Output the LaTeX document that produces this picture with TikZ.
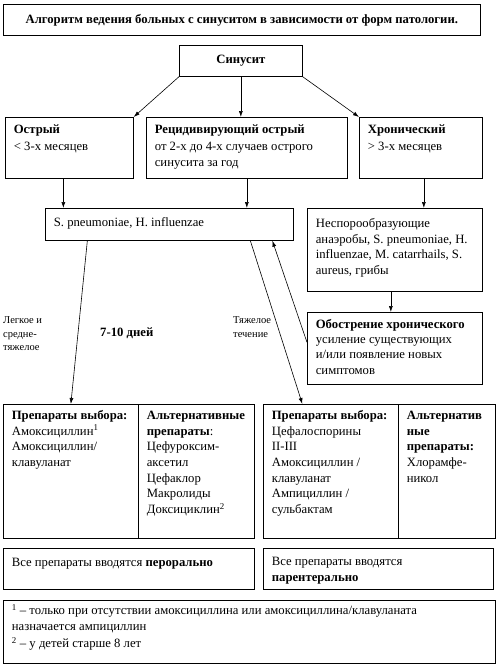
\documentclass[tikz,border=0pt]{standalone}
\usepackage{fontspec}
\setmainfont{Liberation Serif}
\usetikzlibrary{arrows.meta,positioning}

% text of a box: width, height, first baseline, lines
\newcommand{\cell}[5][15.7]{%
  \begin{minipage}[c][#3pt][t]{#2pt}%
    \fontsize{12.7}{#1}\selectfont
    \leftskip=8.5pt\rightskip=0pt plus 1fil
    \rule{0pt}{#4pt}#5%
  \end{minipage}}

\tikzset{
  box/.style={draw, line width=0.7pt, anchor=north west, inner sep=0pt},
  conn/.style={-{Latex[length=6pt,width=4pt]}, line width=0.6pt},
  note/.style={font=\fontsize{10.5}{13.5}\selectfont, align=left,
    anchor=north west, inner sep=0pt}
}

\begin{document}
\begin{tikzpicture}[x=1pt,y=-1pt]
  \useasboundingbox (0,0) rectangle (500,665);

  % header
  \node[box, minimum width=477pt, minimum height=31pt,
    font=\fontsize{12.7}{15}\selectfont\bfseries] (title) at (3,4)
    {Алгоритм ведения больных с синуситом в зависимости от форм патологии.};
  \node[box, minimum width=123pt, minimum height=31pt,
    font=\fontsize{12.7}{15}\selectfont\bfseries] (sinus) at (179,45) {Синусит};

  % forms
  \node[box] (acute) at (5,117) {\cell[16.7]{128}{61}{16}{\textbf{Острый}\\
    < 3-х месяцев}};
  \node[box] (recur) at (146,117) {\cell[16.7]{201}{61}{16}{\textbf{Рецидивирующий острый}\\
    от 2-х до 4-х случаев острого\\ синусита за год}};
  \node[box] (chron) at (359,117) {\cell[16.7]{123}{61}{16}{\textbf{Хронический}\\
    > 3-х месяцев}};

  % agents
  \node[box] (agents) at (45,208) {\cell{248}{32}{18}{S. pneumoniae, H. influenzae}};
  \node[box] (anaer) at (307,208) {\cell{175}{83}{19}{Неспорообразующие\\
    анаэробы, S. pneumoniae, H.\\ influenzae, M. catarrhails, S.\\ aureus, грибы}};
  \node[box] (exacer) at (307,312) {\cell[15.3]{175}{72}{16}{\textbf{Обострение хронического}\\
    усиление существующих\\ и/или появление новых\\ симптомов}};

  % drugs
  \node[box] (oralA) at (3,404) {\cell{135}{134}{15}{\textbf{Препараты выбора:}\\
    Амоксициллин\textsuperscript{1}\\ Амоксициллин/\\ клавуланат}};
  \node[box] (oralB) at (138,404) {\cell{116}{134}{15}{\textbf{Альтернативные\\
    препараты}:\\ Цефуроксим-\\ аксетил\\ Цефаклор\\ Макролиды\\
    Доксициклин\textsuperscript{2}}};
  \node[box] (parA) at (263,404) {\cell{135}{134}{15}{\textbf{Препараты выбора:}\\
    Цефалоспорины\\ II-III\\ Амоксициллин /\\ клавуланат\\ Ампициллин /\\ сульбактам}};
  \node[box] (parB) at (398,404) {\cell{97}{134}{15}{\textbf{Альтернатив\\
    ные\\ препараты:}\\ Хлорамфе-\\ никол}};

  % routes
  \node[box] (oral) at (3,548) {\cell{251}{41}{18}{Все препараты вводятся \textbf{перорально}}};
  \node[box] (paren) at (263,548) {\cell{230}{41}{17}{Все препараты вводятся\\
    \textbf{парентерально}}};

  % footnotes
  \node[box] (foot) at (3,600) {\cell[16.5]{492}{63}{14}{\textsuperscript{1} – только
    при отсутствии амоксициллина или амоксициллина/клавуланата\\
    назначается ампициллин\\ \textsuperscript{2} – у детей старше 8 лет}};

  % labels on the connectors
  \node[note] (mild) at (3,316.5) {Легкое и\\ средне-\\ тяжелое};
  \node[note, font=\fontsize{12.7}{15}\selectfont\bfseries] (days) at (100,328) {7-10 дней};
  \node[note] (severe) at (233,316.5) {Тяжелое\\ течение};

  % connectors
  \draw[conn] (sinus.south west) -- (acute.north east);
  \draw[conn] (sinus.south) -- (sinus.south |- recur.north);
  \draw[conn] (sinus.south east) -- (chron.north west);
  \draw[conn] ([xshift=-6pt]acute.south) -- ([xshift=-6pt]acute.south |- agents.north);
  \draw[conn] (recur.south) -- (recur.south |- agents.north);
  \draw[conn] ([xshift=3pt]chron.south) -- ([xshift=3pt]chron.south |- anaer.north);
  \draw[conn] ([xshift=-4pt]anaer.south) -- ([xshift=-4pt]anaer.south |- exacer.north);
  \draw[conn] ([yshift=6pt]exacer.west) -- ([xshift=103pt]agents.south);
  \draw[conn] ([xshift=-82pt]agents.south) -- (oralA.north);
  \draw[conn] ([xshift=81pt]agents.south) -- ([xshift=-28.5pt]parA.north);
\end{tikzpicture}
\end{document}
